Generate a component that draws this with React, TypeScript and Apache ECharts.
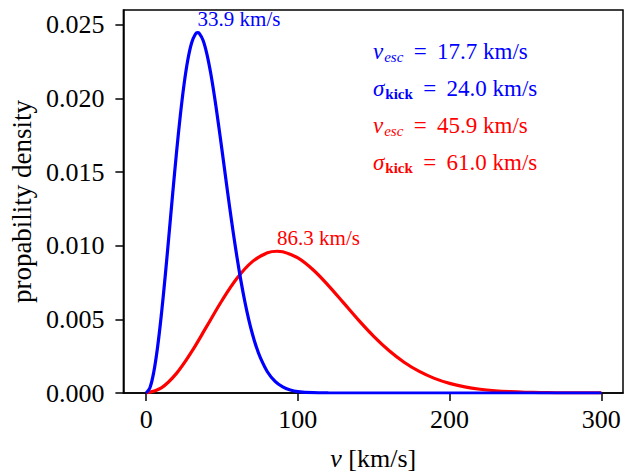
import React, { useEffect, useRef } from "react";
import * as echarts from "echarts";

// Blue distribution (v_esc = 17.7, sigma_kick = 24.0)
const blueV = [0, 2.5, 5, 7.5, 10, 12.5, 15, 17.5, 20, 22.5, 25, 27.5, 30, 32.5, 33.9, 35, 37.5, 40, 42.5, 45, 47.5, 50, 52.5, 55, 57.5, 60, 62.5, 65, 67.5, 70, 72.5, 75, 80, 85, 90, 95, 100, 110, 120, 140, 160, 180, 200, 220, 240, 260, 280, 300];
const blueP = [0, 0.000359, 0.001412, 0.003092, 0.005292, 0.007874, 0.010683, 0.01355, 0.016316, 0.018829, 0.02097, 0.02264, 0.02378, 0.024371, 0.02446, 0.024413, 0.023946, 0.023027, 0.021734, 0.020153, 0.018369, 0.016474, 0.014539, 0.012636, 0.01082, 0.009129, 0.007594, 0.006228, 0.005038, 0.00402, 0.003165, 0.002466, 0.001428, 0.000788, 0.000413, 0.000206, 0.000098, 0.000019, 0.000003, 0, 0, 0, 0, 0, 0, 0, 0, 0];

// Red distribution (v_esc = 45.9, sigma_kick = 61.0)
const redV = [0, 10, 20, 30, 40, 50, 60, 70, 80, 86.3, 90, 100, 110, 120, 130, 140, 150, 160, 170, 180, 190, 200, 210, 220, 230, 240, 250, 260, 270, 280, 290, 300];
const redP = [0, 0.000347, 0.001332, 0.002803, 0.004536, 0.00628, 0.007801, 0.008917, 0.00952, 0.009624, 0.009589, 0.009171, 0.008368, 0.007311, 0.006132, 0.004946, 0.003846, 0.002885, 0.002091, 0.001465, 0.000993, 0.000651, 0.000414, 0.000255, 0.000152, 0.000088, 0.000049, 0.000027, 0.000014, 0.000007, 0.000004, 0.000002];

const peakV = [33.9, 86.3];
const peakP = [0.02446, 0.009624];
const vEsc = ["17.7", "45.9"];
const sigmaKick = ["24.0", "61.0"];

const xTicks = [0, 100, 200, 300];
const yTicks = [0, 0.005, 0.01, 0.015, 0.02, 0.025];

const BLUE = "#0000ff";
const RED = "#ff0000";
const FONT = "'Liberation Serif', 'Times New Roman', serif";

export default function App() {
  const ref = useRef<HTMLDivElement>(null);
  useEffect(() => {
    if (!ref.current) return;
    const chart = echarts.init(ref.current, null, { renderer: "svg" });
    const colors = [BLUE, RED];
    const mkLegend = (i: number, row: number, kind: "v" | "s") => {
      const c = colors[i];
      const text =
        kind === "v"
          ? `{it|v}{sub|esc}{n|\u2009 = \u2009${vEsc[i]} km/s}`
          : `{it|σ}{subr|kick}{n|\u2009 = \u2009${sigmaKick[i]} km/s}`;
      return {
        type: "text",
        left: 373,
        top: 40 + row * 37,
        style: {
          text,
          fill: c,
          rich: {
            it: { fontFamily: FONT, fontStyle: "italic", fontSize: 23, fill: c, lineHeight: 26 },
            n: { fontFamily: FONT, fontSize: 23, fill: c, lineHeight: 26 },
            sub: { fontFamily: FONT, fontStyle: "italic", fontSize: 15, fill: c, verticalAlign: "bottom", padding: [0, 0, 0, 1] },
            subr: { fontFamily: FONT, fontWeight: "bold", fontSize: 15, fill: c, verticalAlign: "bottom", padding: [0, 0, 0, 1] },
          },
        },
      };
    };
    const option = {
      animation: false,
      grid: {
        left: 121,
        right: 1,
        top: 10,
        bottom: 82,
        show: true,
        borderColor: "#000",
        borderWidth: 1.5,
        backgroundColor: "#fff",
      },
      xAxis: {
        type: "value",
        min: -15,
        max: 314.3,
        name: "{i|v} [km/s]",
        nameLocation: "middle",
        nameGap: 52,
        nameTextStyle: {
          fontFamily: FONT,
          fontSize: 26,
          color: "#000",
          rich: {
            i: { fontFamily: FONT, fontSize: 26, fontStyle: "italic", color: "#000" },
          },
        },
        axisLine: { onZero: false, lineStyle: { color: "#000", width: 1.5 } },
        axisTick: { show: true, length: 8, lineStyle: { color: "#000", width: 1.5 }, customValues: xTicks },
        axisLabel: {
          fontFamily: FONT,
          fontSize: 26,
          color: "#000",
          margin: 13,
          customValues: xTicks,
          formatter: (v: number) => String(v),
        },
        splitLine: { show: false },
      },
      yAxis: {
        type: "value",
        min: 0,
        max: 0.026,
        name: "propability density",
        nameLocation: "middle",
        nameGap: 88,
        nameTextStyle: { fontFamily: FONT, fontSize: 27, color: "#000" },
        axisLine: { show: true, onZero: false, lineStyle: { color: "#000", width: 1.5 } },
        axisTick: { show: true, length: 8, lineStyle: { color: "#000", width: 1.5 }, customValues: yTicks },
        axisLabel: {
          fontFamily: FONT,
          fontSize: 26,
          color: "#000",
          margin: 19,
          customValues: yTicks,
          formatter: (v: number) => v.toFixed(3),
        },
        splitLine: { show: false },
      },
      graphic: [mkLegend(0, 0, "v"), mkLegend(0, 1, "s"), mkLegend(1, 2, "v"), mkLegend(1, 3, "s")],
      series: [
        {
          type: "line",
          data: redV.map((v, i) => [v, redP[i]]),
          showSymbol: false,
          smooth: 0.35,
          lineStyle: { color: RED, width: 3.2 },
          itemStyle: { color: RED },
          z: 2,
          markPoint: {
            symbol: "circle",
            symbolSize: 0,
            data: [
              {
                coord: [peakV[1], peakP[1]],
                label: {
                  show: true,
                  formatter: `${peakV[1]} km/s`,
                  position: [0, -3],
                  align: "left",
                  verticalAlign: "bottom",
                  fontFamily: FONT,
                  fontSize: 21,
                  color: RED,
                },
              },
            ],
          },
        },
        {
          type: "line",
          data: blueV.map((v, i) => [v, blueP[i]]),
          showSymbol: false,
          smooth: 0.35,
          lineStyle: { color: BLUE, width: 3.2 },
          itemStyle: { color: BLUE },
          z: 3,
          markPoint: {
            symbol: "circle",
            symbolSize: 0,
            data: [
              {
                coord: [peakV[0], peakP[0]],
                label: {
                  show: true,
                  formatter: `${peakV[0]} km/s`,
                  position: [0, -3],
                  align: "left",
                  verticalAlign: "bottom",
                  fontFamily: FONT,
                  fontSize: 21,
                  color: BLUE,
                },
              },
            ],
          },
        },
      ],
    };
    chart.setOption(option as any);
    return () => chart.dispose();
  }, []);
  return (
    <div
      ref={ref}
      style={{ position: "absolute", left: 0, top: 0, width: 624, height: 476, background: "#fff" }}
    />
  );
}
